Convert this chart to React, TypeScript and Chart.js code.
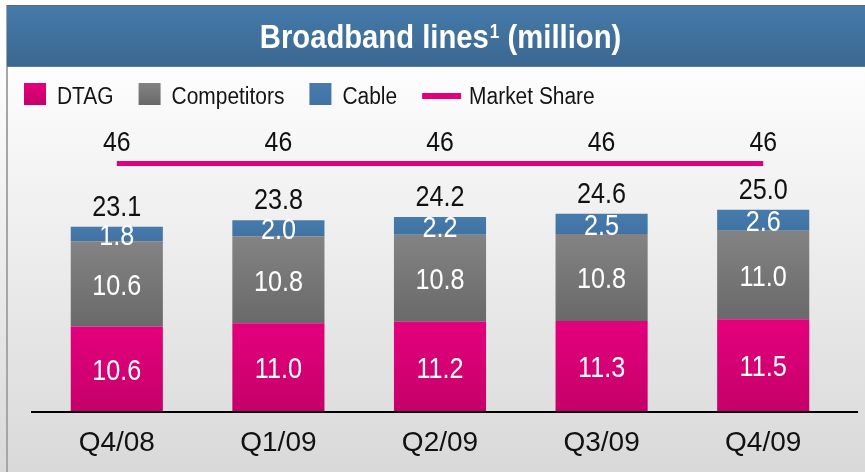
import React, { useEffect, useRef } from "react";
import { Chart, registerables } from "chart.js";

Chart.register(...registerables);

// ---------- data ----------
const categories = ["Q4/08", "Q1/09", "Q2/09", "Q3/09", "Q4/09"];
const dtag = [10.6, 11.0, 11.2, 11.3, 11.5];
const competitors = [10.6, 10.8, 10.8, 10.8, 11.0];
const cable = [1.8, 2.0, 2.2, 2.5, 2.6];
const totals = [23.1, 23.8, 24.2, 24.6, 25.0];
const marketShare = [46, 46, 46, 46, 46];
const seriesNames = ["DTAG", "Competitors", "Cable", "Market Share"];
const titleMain = "Broadband lines";
const titleSup = "1";
const titleTail = " (million)";

// ---------- style ----------
const FONT = "'Liberation Sans', Arial, sans-serif";
const MAGENTA = ["#e4007c", "#c5006a"];
const GRAY = ["#838383", "#696969"];
const BLUE = ["#477bab", "#4073a3"];
const LINE_COLOR = "#e2007a";
const TICK_SIZE = 28;
const TICK_PAD = 14.2;

const stacks = [dtag, competitors, cable];

function segGradient(stackIndex: number, colors: string[]) {
  return (ctx: any) => {
    const chart = ctx.chart;
    const y = chart.scales && chart.scales.y;
    if (!y || ctx.type !== "data") return colors[0];
    const i = ctx.dataIndex;
    let base = 0;
    for (let k = 0; k < stackIndex; k++) base += stacks[k][i];
    const top = y.getPixelForValue(base + stacks[stackIndex][i]);
    const bottom = y.getPixelForValue(base);
    if (!isFinite(top) || !isFinite(bottom) || top === bottom) return colors[0];
    const g = chart.ctx.createLinearGradient(0, top, 0, bottom);
    g.addColorStop(0, colors[0]);
    g.addColorStop(1, colors[1]);
    return g;
  };
}

function drawText(
  ctx: CanvasRenderingContext2D,
  s: string,
  x: number,
  y: number,
  font: string,
  color: string,
  align: "left" | "center",
  sx = 1
) {
  ctx.save();
  ctx.font = font;
  ctx.fillStyle = color;
  ctx.textBaseline = "alphabetic";
  ctx.textAlign = "left";
  const w = ctx.measureText(s).width * sx;
  const x0 = align === "center" ? x - w / 2 : x;
  ctx.translate(x0, y);
  ctx.scale(sx, 1);
  ctx.fillText(s, 0, 0);
  ctx.restore();
  return w;
}

const decorPlugin = {
  id: "decor",
  beforeDraw(chart: any) {
    const ctx: CanvasRenderingContext2D = chart.ctx;
    const W = chart.width;
    const H = chart.height;
    ctx.save();
    // background
    const bg = ctx.createLinearGradient(0, 67, 0, H);
    bg.addColorStop(0, "#fdfdfd");
    bg.addColorStop(1, "#d9d9d9");
    ctx.fillStyle = "#ffffff";
    ctx.fillRect(0, 0, W, 67);
    ctx.fillStyle = bg;
    ctx.fillRect(0, 67, W, H - 67);
    // left border
    ctx.fillStyle = "#a6a6a6";
    ctx.fillRect(6, 5, 2, H - 5);
    // title bar
    const tg = ctx.createLinearGradient(0, 6, 0, 67);
    tg.addColorStop(0, "#457aa9");
    tg.addColorStop(1, "#3b6791");
    ctx.fillStyle = tg;
    ctx.fillRect(7, 5, W - 7, 62);
    ctx.fillStyle = "#4f6b86";
    ctx.fillRect(7, 5, W - 7, 1);
    ctx.fillStyle = "#5a7fa3";
    ctx.fillRect(7, 66, W - 7, 1);

    // title text
    const sx = 0.86;
    const fMain = `bold 34px ${FONT}`;
    const fSup = `bold 20px ${FONT}`;
    ctx.font = fMain;
    const w1 = ctx.measureText(titleMain).width * sx;
    const w3 = ctx.measureText(titleTail).width * sx;
    ctx.font = fSup;
    const w2 = ctx.measureText(titleSup).width * sx;
    let x = 440 - (w1 + w2 + w3) / 2;
    drawText(ctx, titleMain, x, 48, fMain, "#ffffff", "left", sx);
    x += w1 + 1;
    drawText(ctx, titleSup, x, 38, fSup, "#ffffff", "left", sx);
    x += w2;
    drawText(ctx, titleTail, x, 48, fMain, "#ffffff", "left", sx);

    // legend
    const lf = `23px ${FONT}`;
    const lsx = 0.91;
    let lx = 24;
    const legendColors = [MAGENTA, GRAY, BLUE];
    chart.data.datasets.forEach((ds: any, i: number) => {
      if (i < 3) {
        const c = legendColors[i];
        const g = ctx.createLinearGradient(0, 83, 0, 105);
        g.addColorStop(0, c[0]);
        g.addColorStop(1, c[1]);
        ctx.fillStyle = g;
        ctx.fillRect(lx, 83, 22, 22);
        lx += 33;
      } else {
        ctx.fillStyle = LINE_COLOR;
        ctx.fillRect(lx, 93, 39, 6);
        lx += 47;
      }
      const w = drawText(ctx, ds.label, lx, 104, lf, "#141414", "left", lsx);
      lx += w + 25;
    });
    ctx.restore();
  },
  afterDatasetsDraw(chart: any) {
    const ctx: CanvasRenderingContext2D = chart.ctx;
    const y = chart.scales.y;
    const y0 = y.getPixelForValue(0);
    ctx.save();
    // axis line
    ctx.fillStyle = "#000000";
    ctx.fillRect(31, y0 - 1, 858 - 31, 2);

    const inFont = `30px ${FONT}`;
    const inSx = 0.84;
    const cap = 30 * 0.716;
    for (let d = 0; d < 3; d++) {
      const meta = chart.getDatasetMeta(d);
      meta.data.forEach((bar: any, i: number) => {
        const cy = (bar.y + bar.base) / 2;
        drawText(ctx, stacks[d][i].toFixed(1), bar.x, cy + cap / 2, inFont, "#ffffff", "center", inSx);
      });
    }
    // totals
    const topMeta = chart.getDatasetMeta(2);
    topMeta.data.forEach((bar: any, i: number) => {
      drawText(ctx, totals[i].toFixed(1), bar.x, bar.y - 11, inFont, "#111111", "center", inSx);
    });
    // market share labels
    const lineMeta = chart.getDatasetMeta(3);
    lineMeta.data.forEach((pt: any, i: number) => {
      drawText(ctx, String(marketShare[i]), pt.x, pt.y - 12.5, `27px ${FONT}`, "#111111", "center", 0.92);
    });
    ctx.restore();
  },
};

export default function App() {
  const ref = useRef<HTMLCanvasElement | null>(null);
  useEffect(() => {
    if (!ref.current) return;
    const chart = new Chart(ref.current, {
      type: "bar",
      data: {
        labels: categories,
        datasets: [
          {
            label: seriesNames[0],
            data: dtag,
            backgroundColor: segGradient(0, MAGENTA) as any,
            stack: "s",
            yAxisID: "y",
            barPercentage: 0.57,
            categoryPercentage: 1,
            order: 2,
          },
          {
            label: seriesNames[1],
            data: competitors,
            backgroundColor: segGradient(1, GRAY) as any,
            stack: "s",
            yAxisID: "y",
            barPercentage: 0.57,
            categoryPercentage: 1,
            order: 2,
          },
          {
            label: seriesNames[2],
            data: cable,
            backgroundColor: segGradient(2, BLUE) as any,
            stack: "s",
            yAxisID: "y",
            barPercentage: 0.57,
            categoryPercentage: 1,
            order: 2,
          },
          {
            type: "line" as any,
            label: seriesNames[3],
            data: marketShare,
            yAxisID: "y2",
            borderColor: LINE_COLOR,
            backgroundColor: LINE_COLOR,
            borderWidth: 5,
            pointRadius: 0,
            order: 1,
          } as any,
        ],
      },
      options: {
        animation: false,
        responsive: false,
        maintainAspectRatio: false,
        layout: { padding: { left: 36, right: 21, top: 130, bottom: 12.2 } },
        plugins: {
          legend: { display: false },
          title: { display: false },
          tooltip: { enabled: false },
        },
        scales: {
          x: {
            stacked: true,
            grid: { display: false, drawTicks: false },
            border: { display: false },
            ticks: { font: { family: FONT, size: TICK_SIZE }, color: "#111111", padding: TICK_PAD },
            afterFit: (scale: any) => {
              scale.height = TICK_PAD + TICK_SIZE * 1.2;
            },
          },
          y: { stacked: true, display: false, min: 0, max: 35 },
          y2: { display: false, min: 0, max: 52.2, position: "right" },
        },
      },
      plugins: [decorPlugin],
    });
    return () => chart.destroy();
  }, []);
  return (
    <div style={{ position: "fixed", left: 0, top: 0, width: 865, height: 472 }}>
      <canvas ref={ref} width={865} height={472} style={{ display: "block", width: 865, height: 472 }} />
    </div>
  );
}
